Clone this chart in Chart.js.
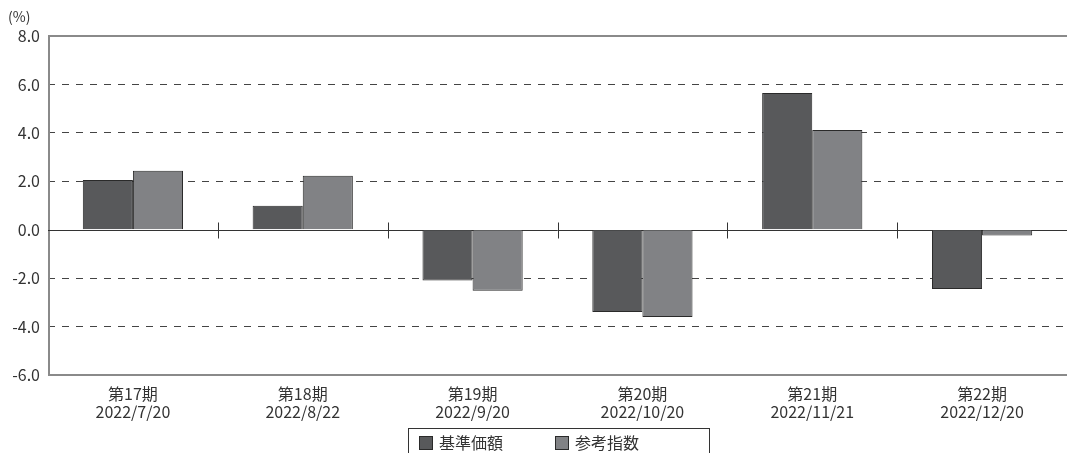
<!DOCTYPE html>
<html>
<head>
<meta charset="utf-8">
<script src="https://cdn.jsdelivr.net/npm/chart.js@4/dist/chart.umd.min.js"></script>
<style>
  html, body { margin: 0; background: #fff; overflow: hidden; }
  #wrap { position: relative; width: 1067px; height: 453px; overflow: hidden; }
  #grafica { display: block; }
  #leyenda {
    position: absolute; left: 408px; top: 428px; width: 302px; height: 40px;
    border: 1px solid #333; box-sizing: border-box;
    font-family: "Noto Sans CJK JP", sans-serif; font-size: 16px; color: #333;
  }
  #leyenda span.item { position: absolute; top: 2px; line-height: 22px; }
  #leyenda span.caja {
    display: inline-block; width: 12px; height: 12px; border: 1px solid #2a2a2a;
    vertical-align: -1px; margin-right: 6px;
  }
</style>
</head>
<body>
<div id="wrap">
  <canvas id="grafica" width="1067" height="453"></canvas>
  <div id="leyenda"></div>
</div>
<script>
// Datos
var periodos = ['第17期', '第18期', '第19期', '第20期', '第21期', '第22期'];
var fechas = ['2022/7/20', '2022/8/22', '2022/9/20', '2022/10/20', '2022/11/21', '2022/12/20'];
var nombres = ['基準価額', '参考指数'];
var kijunKagaku = [2.05, 0.99, -2.10, -3.40, 5.65, -2.45];
var sankoShisu = [2.43, 2.23, -2.52, -3.60, 4.12, -0.24];
var colores = ['#58595b', '#818285'];

var fuente = '"Noto Sans CJK JP", sans-serif';

// Lineas solidas, eje izquierdo, marcas entre categorias y "(%)"
var lineasPlugin = {
    id: 'lineas',
    beforeDatasetsDraw: function(chart) {
        var c = chart.ctx, a = chart.chartArea, y = chart.scales.y, x = chart.scales.x;
        c.save();
        c.strokeStyle = '#8a8a8a';
        c.lineWidth = 2;
        c.beginPath();
        c.moveTo(a.left, Math.round(y.getPixelForValue(8)));
        c.lineTo(a.right, Math.round(y.getPixelForValue(8)));
        c.moveTo(a.left, Math.round(y.getPixelForValue(-6)));
        c.lineTo(a.right, Math.round(y.getPixelForValue(-6)));
        c.moveTo(a.left + 1, a.top);
        c.lineTo(a.left + 1, a.bottom + 1);
        c.stroke();
        var y0 = Math.round(y.getPixelForValue(0)) + 0.5;
        c.lineWidth = 1;
        c.strokeStyle = '#333';
        c.beginPath();
        c.moveTo(a.left, y0);
        c.lineTo(a.right, y0);
        for (var i = 0; i < periodos.length - 1; i++) {
            var xm = Math.round((x.getPixelForValue(i) + x.getPixelForValue(i + 1)) / 2) + 0.5;
            c.moveTo(xm, y0 - 8);
            c.lineTo(xm, y0 + 8);
        }
        c.stroke();
        c.fillStyle = '#333';
        c.font = '14px ' + fuente;
        c.textAlign = 'left';
        c.textBaseline = 'middle';
        c.fillText('(%)', 8, 17);
        c.restore();
    }
};

var etiquetas = periodos.map(function(p, i) { return [p, fechas[i]]; });

var ctx = document.getElementById('grafica').getContext('2d');
var grafica = new Chart(ctx, {
    type: 'bar',
    data: {
        labels: etiquetas,
        datasets: [{
            label: nombres[0],
            data: kijunKagaku,
            backgroundColor: colores[0],
            borderColor: '#2a2a2a',
            borderWidth: 1
        }, {
            label: nombres[1],
            data: sankoShisu,
            backgroundColor: colores[1],
            borderColor: '#2a2a2a',
            borderWidth: 1
        }]
    },
    options: {
        responsive: false,
        animation: false,
        layout: { padding: { left: 0, right: 0, top: 36, bottom: 0 } },
        datasets: { bar: { barPercentage: 1, categoryPercentage: 0.59 } },
        scales: {
            x: {
                grid: { display: false },
                border: { display: false },
                ticks: {
                    color: '#333',
                    padding: 2,
                    maxRotation: 0,
                    autoSkip: false,
                    font: { family: fuente, size: 16, lineHeight: 1.12 }
                },
                afterFit: function(s) { s.height = 78; }
            },
            y: {
                min: -6,
                max: 8,
                border: { display: false, dash: [7, 7] },
                grid: {
                    drawTicks: false,
                    color: function(c) {
                        var v = c.tick ? c.tick.value : null;
                        return (v === 8 || v === -6 || v === 0) ? 'rgba(0,0,0,0)' : '#444';
                    }
                },
                ticks: {
                    stepSize: 2,
                    color: '#333',
                    padding: 8,
                    font: { family: fuente, size: 16 },
                    callback: function(v) { return v.toFixed(1); }
                },
                afterFit: function(s) { s.width = 48; }
            }
        },
        plugins: {
            legend: { display: false },
            tooltip: { enabled: false }
        }
    },
    plugins: [lineasPlugin]
});

// Leyenda con borde (como en la imagen)
var leyenda = document.getElementById('leyenda');
var posiciones = [10, 146];
nombres.forEach(function(n, i) {
    var s = document.createElement('span');
    s.className = 'item';
    s.style.left = posiciones[i] + 'px';
    s.innerHTML = '<span class="caja" style="background:' + colores[i] + '"></span>' + n;
    leyenda.appendChild(s);
});
</script>
</body>
</html>
